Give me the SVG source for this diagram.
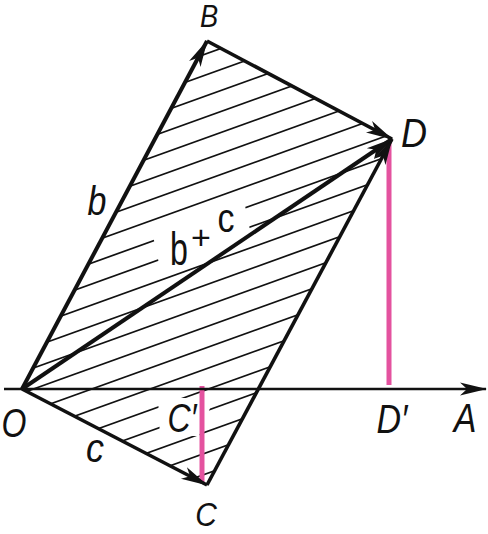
<svg xmlns="http://www.w3.org/2000/svg" width="488" height="534" viewBox="0 0 488 534">
<style>
.lbl{font-family:"Liberation Sans","DejaVu Sans",sans-serif;font-style:italic;fill:#111;text-anchor:middle}
.up{font-family:"Liberation Sans","DejaVu Sans",sans-serif;fill:#111;text-anchor:middle}
.edge{stroke:#111;fill:none;stroke-linecap:butt}
.hatch{stroke:#111;stroke-width:1.7}
.pink{stroke:#e4529f;stroke-width:5}
</style>
<defs>
<marker id="ah" viewBox="-28 -8 30 16" refX="0" refY="0" markerWidth="30" markerHeight="16" markerUnits="userSpaceOnUse" orient="auto">
<path d="M1,0 L-26,-6.5 L-19,0 L-26,6.5 Z" fill="#111"/>
</marker>
<clipPath id="para"><polygon points="22,389 207,41 392,139 207,485"/></clipPath>
</defs>
<rect width="488" height="534" fill="#fff"/>
<g id="hatching" clip-path="url(#para)">
<line class="hatch" x1="0" y1="128" x2="488" y2="-47.7"/>
<line class="hatch" x1="0" y1="149" x2="488" y2="-26.7"/>
<line class="hatch" x1="0" y1="170" x2="488" y2="-5.7"/>
<line class="hatch" x1="0" y1="191" x2="488" y2="15.3"/>
<line class="hatch" x1="0" y1="212" x2="488" y2="36.3"/>
<line class="hatch" x1="0" y1="233" x2="488" y2="57.3"/>
<line class="hatch" x1="0" y1="254" x2="488" y2="78.3"/>
<line class="hatch" x1="0" y1="275" x2="488" y2="99.3"/>
<line class="hatch" x1="0" y1="296" x2="488" y2="120.3"/>
<line class="hatch" x1="0" y1="317" x2="488" y2="141.3"/>
<line class="hatch" x1="0" y1="338" x2="488" y2="162.3"/>
<line class="hatch" x1="0" y1="359" x2="488" y2="183.3"/>
<line class="hatch" x1="0" y1="380" x2="488" y2="204.3"/>
<line class="hatch" x1="0" y1="401" x2="488" y2="225.3"/>
<line class="hatch" x1="0" y1="422" x2="488" y2="246.3"/>
<line class="hatch" x1="0" y1="443" x2="488" y2="267.3"/>
<line class="hatch" x1="0" y1="464" x2="488" y2="288.3"/>
<line class="hatch" x1="0" y1="485" x2="488" y2="309.3"/>
<line class="hatch" x1="0" y1="506" x2="488" y2="330.3"/>
<line class="hatch" x1="0" y1="527" x2="488" y2="351.3"/>
<line class="hatch" x1="0" y1="548" x2="488" y2="372.3"/>
</g>
<g id="label-gaps" fill="#fff">
<polygon points="153,236 160,268 250,230 243,196"/>
<polygon points="158,398 160,436 199,436 214,398"/>
</g>
<g id="connectors">
<line class="pink" x1="389" y1="142" x2="389" y2="385"/>
<line class="pink" x1="202" y1="386" x2="202" y2="482"/>
<line class="edge" x1="4" y1="389" x2="486" y2="389" stroke-width="2.6" marker-end="url(#ah)"/>
<line class="edge" x1="22" y1="389" x2="207" y2="41" stroke-width="4" marker-end="url(#ah)"/>
<line class="edge" x1="207" y1="41" x2="392" y2="139" stroke-width="3.6" marker-end="url(#ah)"/>
<line class="edge" x1="22" y1="389" x2="207" y2="485" stroke-width="3.6" marker-end="url(#ah)"/>
<line class="edge" x1="207" y1="485" x2="392" y2="139" stroke-width="3.6" marker-end="url(#ah)"/>
<line class="edge" x1="22" y1="389" x2="392" y2="139" stroke-width="4" marker-end="url(#ah)"/>
</g>
<g id="node-O"><text class="lbl" font-size="40" transform="translate(14,437) scale(0.8 1)">O</text></g>
<g id="node-B"><text class="lbl" font-size="31" transform="translate(209,27) scale(0.88 1)">B</text></g>
<g id="node-D"><text class="lbl" font-size="40" transform="translate(414,147) scale(0.9 1)">D</text></g>
<g id="node-C"><text class="lbl" font-size="34" transform="translate(206,526) scale(0.88 1)">C</text></g>
<g id="node-A"><text class="lbl" font-size="40" transform="translate(465,432) scale(0.85 1)">A</text></g>
<g id="node-Dp"><text class="lbl" font-size="40" transform="translate(392,433) scale(0.85 1)">D′</text></g>
<g id="node-Cp"><text class="lbl" font-size="40" transform="translate(182,432) scale(0.8 1)">C′</text></g>
<g id="label-b"><text class="lbl" font-size="40" transform="translate(97,215) scale(0.85 1)">b</text></g>
<g id="label-c"><text class="lbl" font-size="40" transform="translate(95,462) scale(0.9 1)">c</text></g>
<g id="label-bc">
<text class="up" font-size="46" transform="translate(179,265) scale(0.7 1)">b</text>
<text class="up" font-size="34" x="201" y="249">+</text>
<text class="up" font-size="40" transform="translate(226,232) scale(0.85 1)">c</text>
</g>
</svg>
